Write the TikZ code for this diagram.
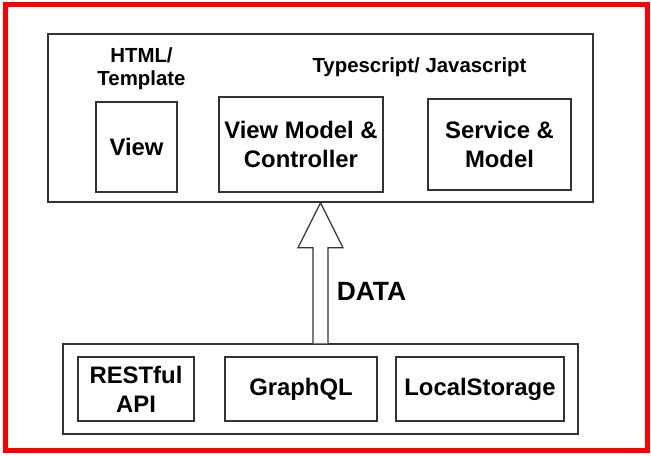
\documentclass[tikz,border=0pt]{standalone}
\usepackage{fontspec}
\setmainfont{Liberation Sans}
\usetikzlibrary{calc}
\definecolor{boxgray}{HTML}{333333}
\begin{document}
\begin{tikzpicture}[x=0.75pt,y=-0.75pt,
  frame/.style={draw=boxgray,line width=1.1pt,rectangle,inner sep=0pt},
  lbl/.style={font=\fontsize{17.9}{21.75}\selectfont\bfseries,align=center},
  small/.style={font=\fontsize{15.3}{17.4}\selectfont\bfseries,align=center,inner sep=0pt},
  bigarrow/.style={draw=boxgray,line width=0.9pt,fill=white,line join=miter}]
\useasboundingbox (0,0) rectangle (651,456);
\draw[red,line width=3.75pt] (5,5) rectangle (647.5,450.5);
% top container
\node[frame,minimum width=545*0.75pt,minimum height=168*0.75pt] (top) at (320.5,118) {};
\node[small] (html) at (141.5,68.5) {HTML/\\Template};
\node[small] (ts) at (419.5,67.5) {Typescript/ Javascript};
\node[frame,lbl,minimum width=81*0.75pt,minimum height=90*0.75pt] (view) at (136.5,147) {View};
\node[frame,lbl,minimum width=164*0.75pt,minimum height=95*0.75pt] (vmc) at (301,144.5) {View Model \&\\Controller};
\node[frame,lbl,minimum width=143*0.75pt,minimum height=91*0.75pt] (svc) at (499.5,144.5) {Service \&\\Model};
% bottom container
\node[frame,minimum width=515*0.75pt,minimum height=90*0.75pt] (bot) at (320.5,389) {};
\node[frame,lbl,minimum width=116*0.75pt,minimum height=64*0.75pt] (rest) at (136,389) {RESTful\\API};
\node[frame,lbl,minimum width=152*0.75pt,minimum height=64*0.75pt] (gql) at (301,389) {GraphQL};
\node[frame,lbl,minimum width=168*0.75pt,minimum height=64*0.75pt] (ls) at (480,389) {LocalStorage};
% arrow
\coordinate (tip) at (top.south);
\coordinate (foot) at (bot.north);
\draw[bigarrow] ($(foot)+(-7.5,0)$) -- ($(tip)+(-7.5,45)$) -- ($(tip)+(-22.5,45)$) -- (tip)
  -- ($(tip)+(22.5,45)$) -- ($(tip)+(7.5,45)$) -- ($(foot)+(7.5,0)$);
\node[font=\fontsize{19.8}{22}\selectfont\bfseries,inner sep=0pt] (data) at (371.5,291) {DATA};
\end{tikzpicture}
\end{document}
